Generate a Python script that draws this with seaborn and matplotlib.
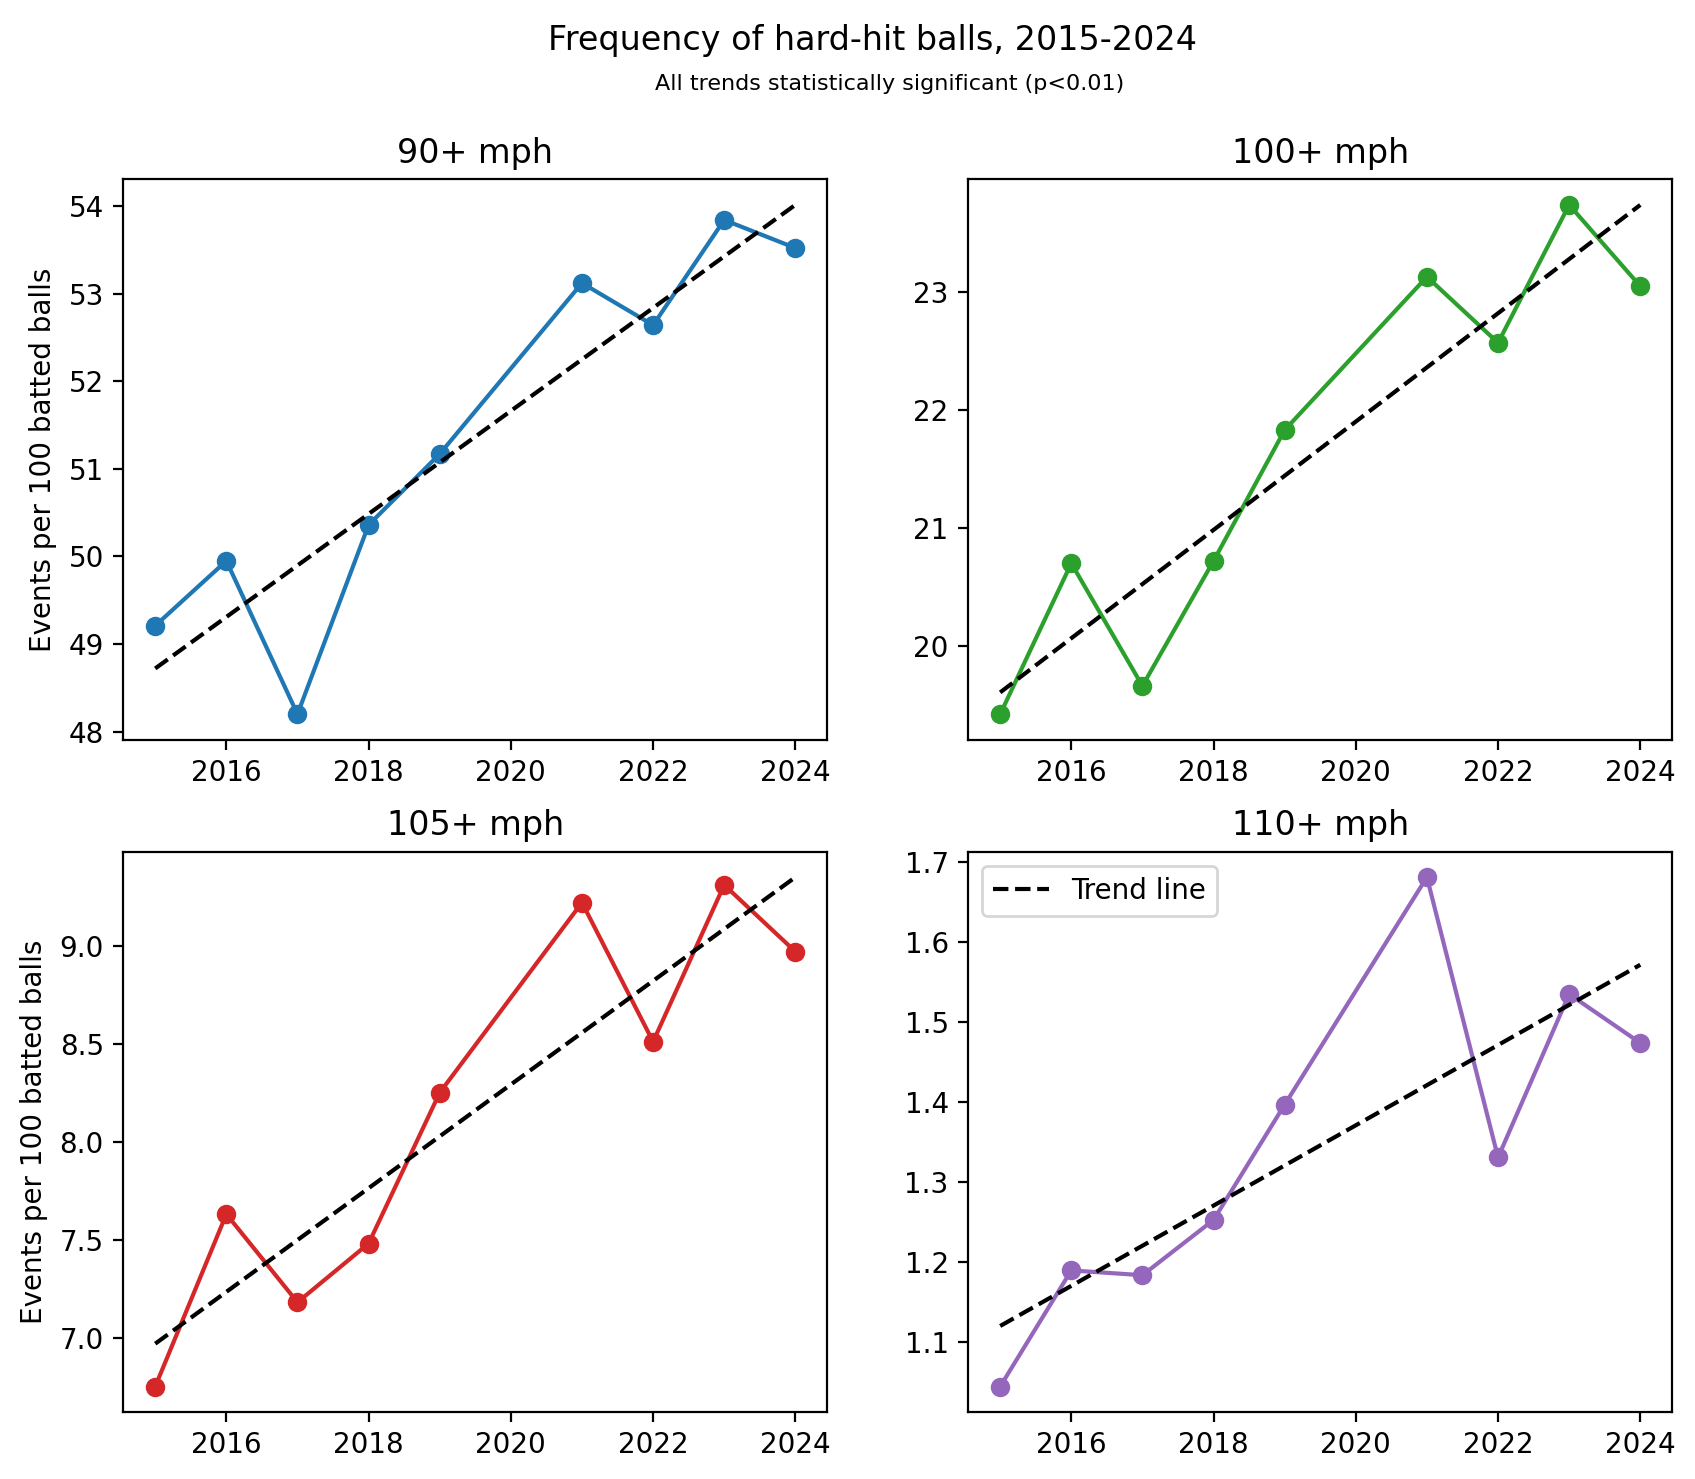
import numpy as np
import matplotlib
matplotlib.use('Agg')
import matplotlib.pyplot as plt
import seaborn as sns

# seasons with data (no 2020 season in the data)
years = [2015, 2016, 2017, 2018, 2019, 2021, 2022, 2023, 2024]

# events per 100 batted balls
mph90 = [49.21, 49.95, 48.20, 50.36, 51.17, 53.12, 52.64, 53.84, 53.52]
mph100 = [19.42, 20.70, 19.66, 20.72, 21.83, 23.13, 22.57, 23.74, 23.05]
mph105 = [6.75, 7.63, 7.18, 7.48, 8.25, 9.22, 8.51, 9.31, 8.97]
mph110 = [1.045, 1.190, 1.184, 1.253, 1.397, 1.681, 1.331, 1.535, 1.474]

panel_titles = ['90+ mph', '100+ mph', '105+ mph', '110+ mph']
colors = ['tab:blue', 'tab:green', 'tab:red', 'tab:purple']
series = [mph90, mph100, mph105, mph110]

fig, axes = plt.subplots(2, 2, figsize=(8.475, 7.395), dpi=200)
fig.subplots_adjust(left=0.0727, right=0.9866, top=0.8787, bottom=0.0453,
                    wspace=0.2, hspace=0.2)

x = np.array(years)
for i, ax in enumerate(axes.flat):
    y = np.array(series[i])
    sns.lineplot(x=x, y=y, ax=ax, color=colors[i], marker='o', markersize=6,
                 markeredgecolor=colors[i], markeredgewidth=1)
    # linear trend fitted to the points
    slope, intercept = np.polyfit(x, y, 1)
    trend = slope * x + intercept
    sns.lineplot(x=x, y=trend, ax=ax, color='black', linestyle='--',
                 label='Trend line' if i == 3 else None, legend=(i == 3))
    ax.set_title(panel_titles[i], fontsize=12)
    ax.set_xlabel('')
    ax.set_ylabel('Events per 100 batted balls' if i % 2 == 0 else '')
    ax.set_xticks([2016, 2018, 2020, 2022, 2024])

axes[1, 1].legend(loc='upper left', fontsize=10)

fig.suptitle('Frequency of hard-hit balls, 2015-2024', fontsize=12,
             x=0.515, y=0.984)
fig.text(0.525, 0.939, 'All trends statistically significant (p<0.01)',
         ha='center', fontsize=8)

plt.savefig('out.png', dpi=200)
